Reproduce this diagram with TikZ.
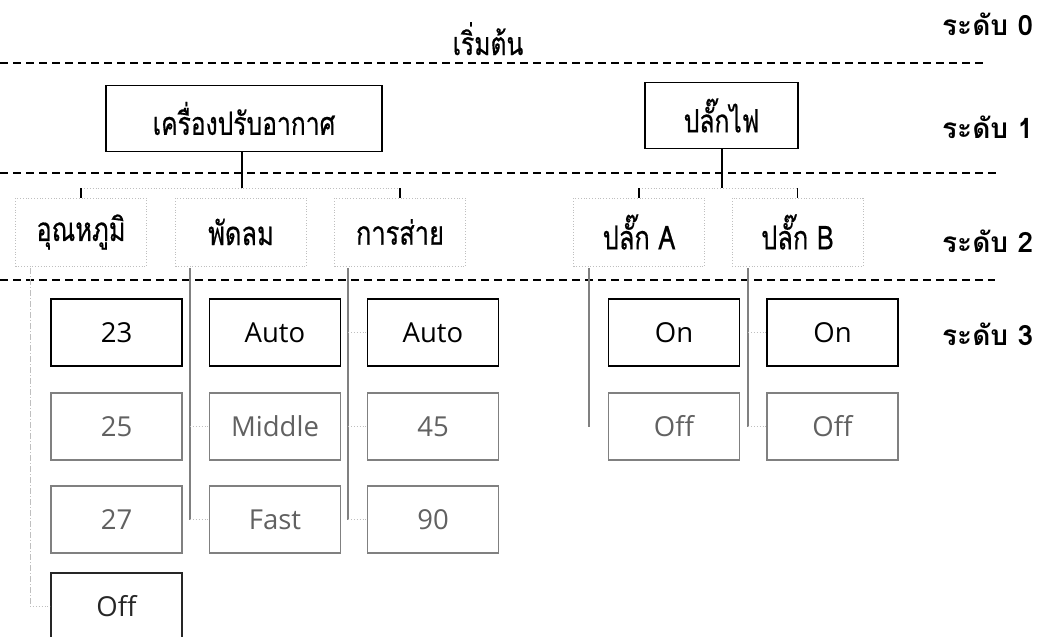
\documentclass[tikz,border=0pt]{standalone}
\usepackage{fontspec}
\setmainfont{Open Sans}
\newfontfamily\thaifont[Script=Thai, FakeStretch=0.77, FakeBold=0.5]{Loma}
\newfontfamily\thaibold[Script=Thai]{Loma}
\usetikzlibrary{calc}
\definecolor{fadeline}{gray}{0.5}
\definecolor{fadetext}{gray}{0.38}
\definecolor{faint}{gray}{0.75}
\begin{document}
\begin{tikzpicture}[x=1pt,y=-1pt,
  sepline/.style={line width=1.2pt, dash pattern=on 8pt off 5pt},
  lvlabel/.style={anchor=base west, inner sep=0pt, font=\thaibold\bfseries\fontsize{28}{32}\selectfont},
  topbox/.style={draw, line width=1.8pt, inner sep=0pt, minimum height=66pt, font=\thaifont\fontsize{32}{34}\selectfont},
  midbox/.style={draw=faint, dotted, line width=0.8pt, inner sep=0pt, minimum width=131pt, minimum height=68pt, font=\thaifont\fontsize{33}{34}\selectfont},
  itembox/.style={draw, line width=1.4pt, inner sep=0pt, minimum width=131pt, minimum height=67pt, font=\fontsize{27.5}{32}\selectfont},
  itemfade/.style={itembox, draw=fadeline, line width=1.2pt, text=fadetext},
  bracketline/.style={faint, dotted, line width=0.9pt},
  bracketend/.style={line width=1.3pt},
  trunk/.style={line width=1.8pt},
  branch/.style={fadeline, line width=1.1pt},
  branchlight/.style={faint, line width=0.9pt, dash pattern=on 6pt off 2pt on 1pt off 2pt},
  stub/.style={faint, dotted, line width=0.9pt}
]
\useasboundingbox (0,0) rectangle (1044,637);
\clip (0,0) rectangle (1044,637);

% level labels
\node[lvlabel] (l0) at (942,35) {ระดับ 0};
\node[lvlabel] (l1) at (942,138) {ระดับ 1};
\node[lvlabel] (l2) at (942,252) {ระดับ 2};
\node[lvlabel] (l3) at (942,345) {ระดับ 3};

% start
\node[anchor=base, inner sep=0pt, font=\thaifont\fontsize{32}{34}\selectfont] (start) at (488,55) {เริ่มต้น};

% separators
\coordinate (s0a) at (0,63);   \coordinate (s0b) at (983,63);
\coordinate (s1a) at (0,173);  \coordinate (s1b) at (997,173);
\coordinate (s2a) at (0,280);  \coordinate (s2b) at (995,280);
\draw[sepline] (s0a) -- (s0b);
\draw[sepline] (s1a) -- (s1b);
\draw[sepline] (s2a) -- (s2b);

% level 1
\node[topbox, minimum width=276pt] (ac) at (244,118.5) {เครื่องปรับอากาศ};
\node[topbox, minimum width=153pt] (plug) at (721.5,115.5) {ปลั๊กไฟ};

% level 2
\node[midbox] (temp) at (81,232) {อุณหภูมิ};
\node[midbox] (fan) at (241,232) {พัดลม};
\node[midbox] (swing) at (400,232) {การส่าย};
\node[midbox] (pa) at (639,232) {ปลั๊ก A};
\node[midbox] (pb) at (797.5,232) {ปลั๊ก B};

% level 3
\node[itembox]  (t1) at (116.5,332.5) {23};
\node[itemfade] (t2) at (116.5,426.5) {25};
\node[itemfade] (t3) at (116.5,519.5) {27};
\node[itembox, draw=black!85, text=black!85] (t4) at (116.5,606.5) {Off};

\node[itembox]  (f1) at (275,332.5) {Auto};
\node[itemfade] (f2) at (275,426.5) {Middle};
\node[itemfade] (f3) at (275,519.5) {Fast};

\node[itembox]  (w1) at (433,332.5) {Auto};
\node[itemfade] (w2) at (433,426.5) {45};
\node[itemfade] (w3) at (433,519.5) {90};

\node[itembox]  (a1) at (674,332.5) {On};
\node[itemfade] (a2) at (674,426.5) {Off};

\node[itembox]  (b1) at (832.5,332.5) {On};
\node[itemfade] (b2) at (832.5,426.5) {Off};

% level 1 -> level 2 brackets
\coordinate (acj) at (242,188);
\coordinate (plj) at (722,188);
\draw[trunk] (ac.south -| acj) -- (acj);
\draw[bracketline] (temp.north |- acj) -- (swing.north |- acj);
\draw[bracketend] (temp.north |- acj) -- (temp.north);
\draw[bracketend] (swing.north |- acj) -- (swing.north);
\draw[trunk] (plug.south -| plj) -- (plj);
\draw[bracketline] (pa.north |- plj) -- (pb.north |- plj);
\draw[bracketend] (pa.north |- plj) -- (pa.north);
\draw[bracketend] (pb.north |- plj) -- (pb.north);

% level 2 -> level 3 branches
\coordinate (tx) at (30,268);
\coordinate (fx) at (190,268);
\coordinate (wx) at (348,268);
\coordinate (ax) at (589,268);
\coordinate (bx) at (748,268);

\draw[branchlight] (tx) -- (tx |- t4.west);
\draw[stub] (tx |- t4.west) -- (t4.west);

\draw[branch] (fx) -- (fx |- f3.west);
\draw[stub] (fx |- f2.west) -- (f2.west);
\draw[stub] (fx |- f3.west) -- (f3.west);

\draw[branch] (wx) -- (wx |- w3.west);
\draw[stub] (wx |- w1.west) -- (w1.west);
\draw[stub] (wx |- w2.west) -- (w2.west);
\draw[stub] (wx |- w3.west) -- (w3.west);

\draw[branch] (ax) -- (ax |- a2.west);

\draw[branch] (bx) -- (bx |- b2.west);
\draw[stub] (bx |- b1.west) -- (b1.west);
\draw[stub] (bx |- b2.west) -- (b2.west);
\end{tikzpicture}
\end{document}
